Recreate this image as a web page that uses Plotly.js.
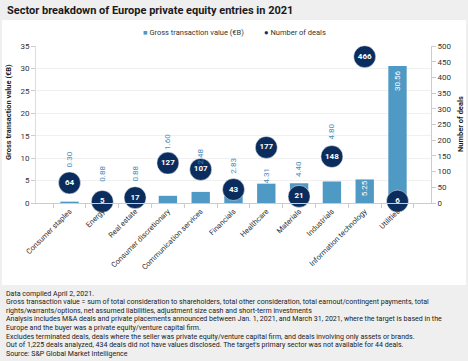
<!DOCTYPE html>
<html>
<head>
<meta charset="utf-8">
<script src="https://cdn.plot.ly/plotly-3.0.1.min.js"></script>
<style>
html,body{margin:0;padding:0;background:#efefef;}
#chart{width:468px;height:361px;}
</style>
</head>
<body>
<div id="chart"></div>
<script>
const categories = ["Consumer staples","Energy","Real estate","Consumer discretionary","Communication services","Financials","Healthcare","Materials","Industrials","Information technology","Utilities"];
const grossValue = [0.30, 0.88, 0.88, 1.60, 2.48, 2.83, 4.31, 4.40, 4.80, 5.25, 30.56];
const numDeals = [64, 5, 17, 127, 107, 43, 177, 21, 148, 466, 6];
const valueLabels = ["0.30","0.88","0.88","1.60","2.48","2.83","4.31","4.40","4.80","5.25","30.56"];
const leftTicks = [0,5,10,15,20,25,30,35];
const rightTicks = [0,50,100,150,200,250,300,350,400,450,500];
const footnotes = [
  "Data compiled April 2, 2021.",
  "Gross transaction value = sum of total consideration to shareholders, total other consideration, total earnout/contingent payments, total",
  "rights/warrants/options, net assumed liabilities, adjustment size cash and short-term investments",
  "Analysis includes M&A deals and private placements announced between Jan. 1, 2021, and March 31, 2021, where the target is based in the",
  "Europe and the buyer was a private equity/venture capital firm.",
  "Excludes terminated deals, deals where the seller was private equity/venture capital firm, and deals involving only assets or brands.",
  "Out of 1,225 deals analyzed, 434 deals did not have values disclosed. The target's primary sector was not available for 44 deals.",
  "Source: S&P Global Market Intelligence"
];

// label placement (layout, in left-axis units) and whether label sits inside bar
const labelPosY = [9.6, 6.6, 6.6, 13.6, 10.3, 8.2, 6.2, 7.6, 15.9, 3.2, 27.3];
const labelInside = [false,false,false,false,false,false,false,false,false,true,true];

const W = 468, H = 361;
const M = {l:36, r:37, t:46, b:158};
const PW = W - M.l - M.r, PH = H - M.t - M.b;
const xp = px => (px - M.l) / PW;
const yp = py => (H - M.b - py) / PH;

const BAR = '#4f99c5';
const NAVY = '#0b2d5e';
const LBL = '#4a8cbc';
const FONT = 'Roboto, "Liberation Sans", Arial, sans-serif';

const traces = [
  {
    type:'bar', x:categories, y:grossValue, name:'Gross transaction value (€B)',
    marker:{color:BAR}, yaxis:'y', hoverinfo:'x+y'
  },
  {
    type:'scatter', mode:'markers+text', x:categories, y:numDeals, yaxis:'y2',
    name:'Number of deals', text:numDeals.map(String), textposition:'middle center',
    textfont:{color:'#ffffff', size:8, family:FONT, weight:'bold'},
    marker:{color:NAVY, size:22, line:{color:'#ffffff', width:0.5}}, cliponaxis:false
  }
];

const annotations = [];
categories.forEach((c,i)=>{
  annotations.push({
    x:c, y:labelPosY[i], xref:'x', yref:'y', text:valueLabels[i], showarrow:false,
    textangle:-90, xanchor:'center', yanchor:'middle',
    font:{size:8, family:FONT, color: labelInside[i] ? '#ffffff' : LBL}
  });
});
// title
annotations.push({x:xp(5), y:yp(10), xref:'paper', yref:'paper', xanchor:'left', yanchor:'middle',
  text:'<b>Sector breakdown of Europe private equity entries in 2021</b>', showarrow:false,
  font:{size:11, family:FONT, color:'#1a1a1a'}});
// legend
annotations.push({x:xp(141), y:yp(32), xref:'paper', yref:'paper', xanchor:'left', yanchor:'middle',
  text:'<span style="color:'+BAR+'">■</span> Gross transaction value (€B)', showarrow:false,
  font:{size:7.5, family:FONT, color:'#333333'}});
annotations.push({x:xp(262), y:yp(32), xref:'paper', yref:'paper', xanchor:'left', yanchor:'middle',
  text:'<span style="color:'+NAVY+'">●</span> Number of deals', showarrow:false,
  font:{size:7.5, family:FONT, color:'#333333'}});
// axis titles
annotations.push({x:xp(8), y:yp(112), xref:'paper', yref:'paper', xanchor:'center', yanchor:'middle',
  text:'<b>Gross transaction value (€B)</b>', textangle:-90, showarrow:false,
  font:{size:7.5, family:FONT, color:'#1a1a1a'}});
annotations.push({x:xp(460), y:yp(124), xref:'paper', yref:'paper', xanchor:'center', yanchor:'middle',
  text:'<b>Number of deals</b>', textangle:-90, showarrow:false,
  font:{size:7.5, family:FONT, color:'#1a1a1a'}});
// footnotes
footnotes.forEach((t,i)=>{
  annotations.push({x:xp(4), y:yp(293 + i*8.6), xref:'paper', yref:'paper', xanchor:'left', yanchor:'middle',
    text:t, showarrow:false, font:{size:7.05, family:FONT, color:'#1a1a1a'}});
});

const layout = {
  width:W, height:H, margin:M,
  paper_bgcolor:'#efefef', plot_bgcolor:'#ffffff',
  showlegend:false, bargap:0.44,
  font:{family:FONT, size:8, color:'#333333'},
  xaxis:{type:'category', tickangle:-45, ticks:'outside', tickson:'boundaries', ticklen:4,
    tickcolor:'#cccccc', showline:true, linecolor:'#cccccc', linewidth:1,
    tickfont:{size:7.5, color:'#333333'}, showgrid:false, automargin:false},
  yaxis:{range:[0,35], tickvals:leftTicks, ticks:'outside', ticklen:4, tickcolor:'#cccccc',
    showline:true, linecolor:'#dddddd', gridcolor:'#f0f0f0', zeroline:false,
    tickfont:{size:8, color:'#333333'}, automargin:false},
  yaxis2:{range:[0,500], tickvals:rightTicks, overlaying:'y', side:'right', ticks:'outside',
    ticklen:4, tickcolor:'#cccccc', showline:true, linecolor:'#cccccc', showgrid:false,
    zeroline:false, tickfont:{size:8, color:'#333333'}, automargin:false},
  shapes:[{type:'rect', xref:'paper', yref:'paper', x0:xp(2), x1:xp(466), y0:yp(285), y1:yp(20),
    fillcolor:'#ffffff', line:{width:0}, layer:'below'}],
  annotations:annotations
};

Plotly.newPlot('chart', traces, layout, {displayModeBar:false, staticPlot:true});
</script>
</body>
</html>
